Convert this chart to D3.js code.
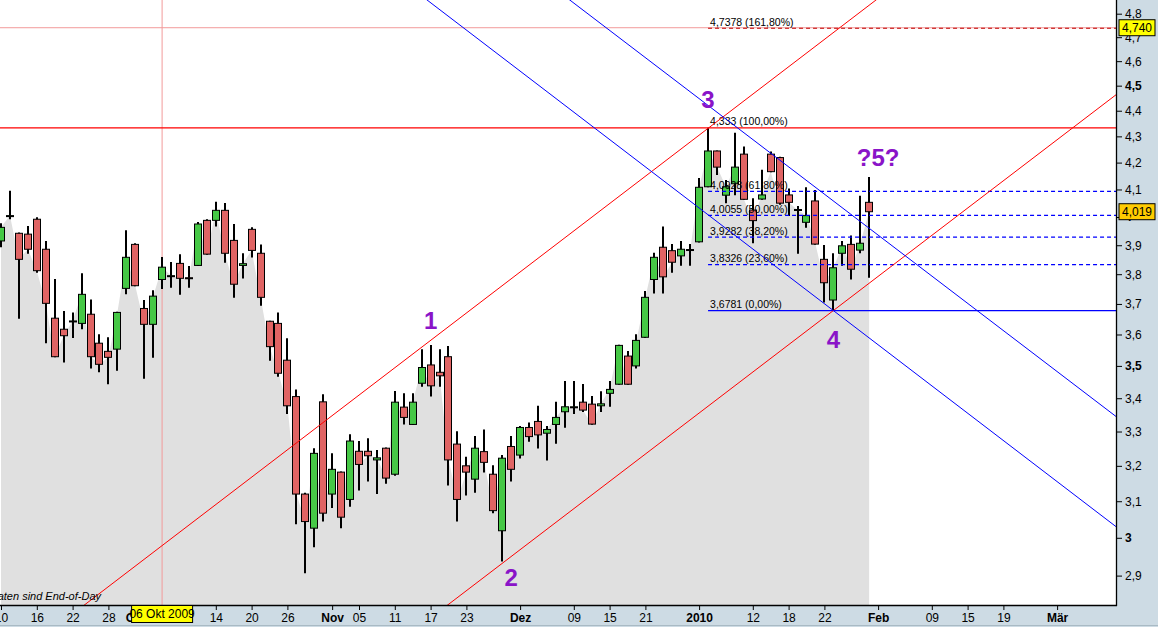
<!DOCTYPE html>
<html><head><meta charset="utf-8">
<script src="https://cdn.jsdelivr.net/npm/d3@7"></script>
<style>
body{margin:0;background:#cddbe4;}
svg{display:block;font-family:"Liberation Sans",Arial,sans-serif;}
</style></head>
<body><svg id="c" width="1158" height="627"></svg>
<script>
// ---------------- DATA ----------------
const firstDay = "2009-09-10", lastAxisDay = "2010-03-06";
const holidays = ["2009-12-24","2009-12-25","2009-12-31","2010-01-01"];

const opens  = [3.915,4.002,3.942,3.939,3.992,3.886,3.653,3.617,3.642,3.636,3.666,3.572,3.546,3.553,3.752,3.903,3.685,3.633,3.782,3.793,
3.837,3.788,3.830,3.988,3.988,4.024,3.917,3.830,3.956,3.872,3.643,3.636,3.518,3.405,3.120,3.026,3.389,3.120,3.182,3.105,
3.242,3.242,3.217,3.251,3.176,3.373,3.321,3.446,3.503,3.480,3.529,3.263,3.200,3.162,3.241,3.176,3.019,3.256,3.231,3.312,
3.330,3.295,3.321,3.359,3.372,3.388,3.382,3.377,3.415,3.443,3.531,3.500,3.591,3.782,3.893,3.881,3.863,3.885,3.912,4.110,
4.244,4.079,4.121,4.232,4.025,4.065,4.232,4.219,4.080,4.027,3.981,4.058,3.851,3.713,3.872,3.903,3.883,4.053];
const highs  = [3.978,4.095,3.945,3.968,3.999,3.915,3.784,3.677,3.672,3.803,3.715,3.601,3.591,3.674,3.953,3.907,3.713,3.746,3.859,3.842,
3.869,3.828,3.982,3.992,4.055,4.051,3.975,3.872,3.963,3.903,3.645,3.672,3.588,3.427,3.124,3.251,3.412,3.236,3.184,3.292,
3.272,3.280,3.246,3.253,3.422,3.415,3.415,3.553,3.566,3.553,3.563,3.301,3.226,3.287,3.306,3.202,3.231,3.287,3.316,3.327,
3.377,3.316,3.389,3.453,3.453,3.444,3.407,3.421,3.453,3.567,3.547,3.601,3.743,3.874,3.966,3.904,3.915,3.904,4.142,4.333,
4.246,4.135,4.314,4.261,4.068,4.173,4.242,4.222,4.104,4.040,4.108,4.098,3.901,3.872,3.915,3.934,4.077,4.146];
const lows   = [3.893,3.992,3.651,3.870,3.805,3.572,3.527,3.511,3.589,3.617,3.492,3.480,3.443,3.485,3.732,3.759,3.460,3.526,3.750,3.754,
3.731,3.754,3.828,3.867,3.966,3.839,3.721,3.785,3.857,3.694,3.516,3.466,3.352,3.037,2.906,2.975,3.044,3.081,3.026,3.085,
3.130,3.155,3.120,3.149,3.172,3.321,3.319,3.435,3.405,3.435,3.144,3.044,3.116,3.124,3.181,3.067,2.937,3.155,3.221,3.270,
3.250,3.215,3.264,3.311,3.352,3.358,3.320,3.358,3.374,3.441,3.441,3.492,3.589,3.735,3.735,3.805,3.829,3.829,3.910,4.108,
4.154,4.050,4.079,4.062,3.907,4.062,4.164,4.044,4.004,3.870,3.962,3.902,3.705,3.678,3.829,3.782,3.872,3.788];
const closes = [3.963,4.005,3.851,3.886,3.812,3.702,3.529,3.596,3.644,3.732,3.529,3.505,3.527,3.672,3.858,3.761,3.633,3.726,3.824,3.795,
3.786,3.786,3.975,3.869,4.024,3.872,3.766,3.836,3.882,3.722,3.561,3.477,3.377,3.120,3.044,3.236,3.067,3.190,3.056,3.272,
3.204,3.229,3.223,3.165,3.388,3.342,3.388,3.495,3.438,3.469,3.217,3.105,3.182,3.251,3.210,3.074,3.222,3.190,3.312,3.285,
3.290,3.306,3.342,3.374,3.374,3.364,3.322,3.383,3.427,3.565,3.443,3.581,3.722,3.858,3.791,3.841,3.886,3.883,4.108,4.244,
4.183,4.110,4.183,4.064,3.987,4.080,4.166,4.050,4.053,4.025,4.005,3.904,3.771,3.822,3.898,3.817,3.907,4.019];

const yTicks = [2.9,3.0,3.1,3.2,3.3,3.4,3.5,3.6,3.7,3.8,3.9,4.0,4.1,4.2,4.3,4.4,4.5,4.6,4.7,4.8];
const yBold  = [3.0,3.5,4.0,4.5];
const xTickDates  = ["2009-09-10","2009-09-16","2009-09-22","2009-09-28","2009-10-01","2009-10-14","2009-10-20","2009-10-26",
                     "2009-11-02","2009-11-05","2009-11-11","2009-11-17","2009-11-23","2009-12-01","2009-12-09","2009-12-15",
                     "2009-12-21","2010-01-04","2010-01-12","2010-01-18","2010-01-22","2010-02-01","2010-02-09","2010-02-15",
                     "2010-02-19","2010-03-01"];
const xTickLabels = ["10","16","22","28","Okt","14","20","26","Nov","05","11","17","23","Dez","09","15","21","2010","12","18","22",
                     "Feb","09","15","19","Mär"];
const xTickBold   = ["Okt","Nov","Dez","2010","Feb","Mär"];

const fibStart = "2010-01-05";
const fibLevels = [4.7378,4.333,4.0928,4.0055,3.9282,3.8326,3.6781];
const fibPcts   = ["161,80%","100,00%","61,80%","50,00%","38,20%","23,60%","0,00%"];

// trend lines: pairs of anchors [date, price]
const redLines  = [[["2009-11-27",2.932],["2010-01-25",3.6781]],
                   [["2009-11-17",3.581],["2010-01-05",4.331]]];
const blueLines = [[["2010-01-05",4.008],["2010-01-25",3.6781]],
                   [["2010-01-05",4.421],["2010-01-25",4.058]]];

const waveText  = ["1","2","3","4","?5?"];
const waveDates = ["2009-11-17","2009-11-30","2010-01-05","2010-01-25","2010-02-01"];
const wavePrice = [3.618,2.873,4.411,3.556,4.187];

const crossDate = "2009-10-06", crossDateLabel = "06 Okt 2009", crossValue = 4.740;
const lastValue = 4.019;
const noteText = "Daten sind End-of-Day";

// ---------------- LAYOUT ----------------
const W = 1158, H = 627, PR = 1116, PB = 605;
const fmt = d3.utcFormat("%Y-%m-%d"), parse = d3.utcParse("%Y-%m-%d");
const days = d3.utcDay.range(parse(firstDay), parse(lastAxisDay))
  .filter(d => d.getUTCDay() % 6 !== 0).map(fmt).filter(s => !holidays.includes(s));
const candles = opens.map((o,i) => ({d: days[i], o, h: highs[i], l: lows[i], c: closes[i]}));

const x = d3.scalePoint().domain(days).range([1, 1 + 8.95*(days.length-1)]);
const y = d3.scaleLog().domain([2.9, 4.8]).range([575.6, 13.7]);
const comma = v => String(v).replace(".", ",");

const svg = d3.select("#c");
svg.append("rect").attr("width",W).attr("height",H).attr("fill","#cddbe4");
svg.append("rect").attr("width",PR).attr("height",PB).attr("fill","#ffffff");
svg.append("line").attr("x1",0).attr("x2",W).attr("y1",625.5).attr("y2",625.5).attr("stroke","#a9bac4");
svg.append("clipPath").attr("id","pc").append("rect").attr("width",PR).attr("height",PB);
const g = svg.append("g").attr("clip-path","url(#pc)");

// grey close area
g.append("path").datum(candles)
  .attr("d", d3.area().x(d => x(d.d)).y0(PB).y1(d => y(d.c)))
  .attr("fill","#e0e0e0");

// crosshair
g.append("line").attr("x1",x(crossDate)).attr("x2",x(crossDate)).attr("y1",0).attr("y2",PB)
  .attr("stroke","#f29a9a").attr("stroke-width",1);
g.append("line").attr("x1",0).attr("x2",PR).attr("y1",y(crossValue)).attr("y2",y(crossValue))
  .attr("stroke","#f29a9a").attr("stroke-width",1);

// candles
const cg = g.append("g");
cg.selectAll("line.w").data(candles).join("line")
  .attr("x1", d => Math.round(x(d.d))).attr("x2", d => Math.round(x(d.d)))
  .attr("y1", d => y(d.h)).attr("y2", d => y(d.l))
  .attr("stroke","#000").attr("stroke-width",2);
cg.selectAll("rect.b").data(candles).join("rect")
  .attr("x", d => Math.round(x(d.d)) - 3.5)
  .attr("y", d => y(Math.max(d.o,d.c)))
  .attr("width", 7)
  .attr("height", d => Math.max(1, Math.abs(y(d.o) - y(d.c))))
  .attr("fill", d => d.c >= d.o ? "#46c846" : "#e06464")
  .attr("stroke","#000").attr("stroke-width",1);

// fib lines
const fx = x(fibStart);
fibLevels.forEach((v,i) => {
  const pct = fibPcts[i];
  let stroke = "#0000ff", dash = "4,3", x0 = fx;
  if (pct === "161,80%") { stroke = "#c00000"; dash = "4,3"; }
  if (pct === "100,00%") { stroke = "#ff0000"; dash = null; x0 = 0; }
  if (pct === "0,00%")   { dash = null; }
  g.append("line").attr("x1",x0).attr("x2",PR).attr("y1",y(v)).attr("y2",y(v))
    .attr("stroke",stroke).attr("stroke-width", dash ? 1.2 : 1.3).attr("stroke-dasharray",dash);
  g.append("text").attr("x",fx+2).attr("y",y(v)-2.5).attr("font-size","10.5px").attr("fill","#000")
    .text(comma(v) + " (" + pct + ")");
});

// trend lines, extended across the plot
function trend(pair, color){
  const [a,b] = pair;
  const x1 = x(a[0]), y1 = y(a[1]), x2 = x(b[0]), y2 = y(b[1]);
  const m = (y2-y1)/(x2-x1);
  g.append("line").attr("x1",-20).attr("y1",y1 + m*(-20-x1))
    .attr("x2",PR+20).attr("y2",y1 + m*(PR+20-x1))
    .attr("stroke",color).attr("stroke-width",1);
}
redLines.forEach(p => trend(p,"#ff0000"));
blueLines.forEach(p => trend(p,"#0000ff"));

// wave labels
waveText.forEach((t,i) => {
  g.append("text").attr("x",x(waveDates[i])).attr("y",y(wavePrice[i]))
    .attr("text-anchor","middle").attr("font-size","24px").attr("font-weight","bold")
    .attr("fill","#8a14c8").text(t);
});

// note
g.append("text").attr("x",101).attr("y",600).attr("text-anchor","end")
  .attr("font-size","11px").attr("font-style","italic").attr("fill","#000").text(noteText);

// borders
svg.append("line").attr("x1",PR+0.5).attr("x2",PR+0.5).attr("y1",0).attr("y2",PB+1).attr("stroke","#000").attr("stroke-width",1.3);
svg.append("line").attr("x1",0).attr("x2",PR+1).attr("y1",PB+0.5).attr("y2",PB+0.5).attr("stroke","#000").attr("stroke-width",1.3);

// right axis
const ya = svg.append("g").attr("transform",`translate(${PR+1},0)`)
  .call(d3.axisRight(y).tickValues(yTicks).tickSize(5).tickPadding(3)
        .tickFormat(d => comma(+d.toFixed(1))));
ya.select(".domain").remove();
ya.selectAll(".tick line").attr("stroke","#000");
ya.selectAll(".tick text").attr("font-size","12px").attr("fill","#000")
  .attr("font-family","'Liberation Sans',Arial,sans-serif")
  .attr("font-weight", d => yBold.some(b => Math.abs(b-d) < 1e-9) ? "bold" : "normal");

// bottom axis
const xa = svg.append("g").attr("transform",`translate(0,${PB+1})`)
  .call(d3.axisBottom(x).tickValues(xTickDates).tickSize(4).tickPadding(3)
        .tickFormat(d => xTickLabels[xTickDates.indexOf(d)]));
xa.select(".domain").remove();
xa.selectAll(".tick line").attr("stroke","#000");
xa.selectAll(".tick text").attr("font-size","12px").attr("fill","#000")
  .attr("font-family","'Liberation Sans',Arial,sans-serif")
  .attr("font-weight", d => xTickBold.includes(xTickLabels[xTickDates.indexOf(d)]) ? "bold" : "normal");

// value boxes
function vbox(cx, cy, w, h, fill, txt){
  svg.append("rect").attr("x",cx - w/2).attr("y",cy - h/2).attr("width",w).attr("height",h)
    .attr("fill",fill).attr("stroke","#000").attr("stroke-width",1);
  svg.append("text").attr("x",cx).attr("y",cy).attr("dy","0.36em").attr("text-anchor","middle")
    .attr("font-size","12px").attr("fill","#000").text(txt);
}
vbox(1137, y(crossValue), 36, 16, "#ffff00", comma(crossValue.toFixed(3)));
vbox(1137, y(lastValue), 36, 16, "#ffcc00", comma(lastValue.toFixed(3)));
vbox(x(crossDate), 614, 61, 17, "#ffff00", crossDateLabel);
</script></body></html>
